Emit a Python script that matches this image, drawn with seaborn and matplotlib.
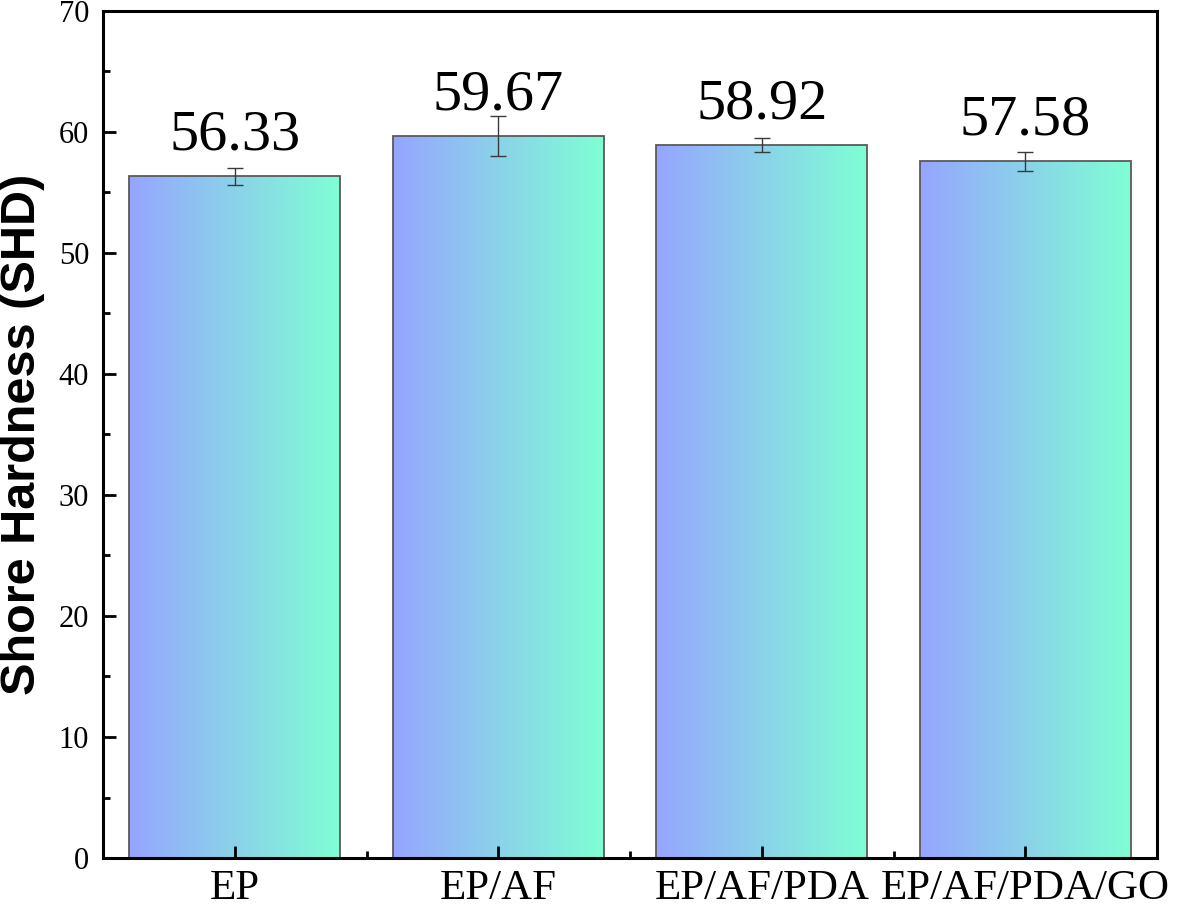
import numpy as np
import pandas as pd
import seaborn as sns
import matplotlib.pyplot as plt
from matplotlib.colors import LinearSegmentedColormap
from matplotlib.ticker import MultipleLocator, FixedLocator

samples = ["EP", "EP/AF", "EP/AF/PDA", "EP/AF/PDA/GO"]
hardness = [56.33, 59.67, 58.92, 57.58]
hardness_err = [0.7, 1.65, 0.6, 0.8]

grad_left = "#96A5FF"
grad_right = "#7FFFD4"


def main():
    sns.set_style("ticks")
    plt.rcParams["font.family"] = ["Liberation Serif", "DejaVu Serif"]
    plt.rcParams["text.color"] = "black"
    plt.rcParams["xtick.color"] = "black"
    plt.rcParams["ytick.color"] = "black"

    df = pd.DataFrame({"sample": samples, "shd": hardness, "err": hardness_err})

    fig = plt.figure(figsize=(12.01, 9.07), dpi=100)
    ax = fig.add_axes([0.0858, 0.054, 0.8776, 0.934])

    sns.barplot(data=df, x="sample", y="shd", order=samples, errorbar=None,
                width=0.8, color=grad_left, edgecolor="#5a5a5a", linewidth=1.3, ax=ax)

    # gradient fill clipped to each bar
    cmap = LinearSegmentedColormap.from_list("bar_grad", [grad_left, grad_right])
    grad = np.linspace(0, 1, 256).reshape(1, -1)
    for patch in ax.patches:
        x0, y0 = patch.get_x(), patch.get_y()
        w, h = patch.get_width(), patch.get_height()
        im = ax.imshow(grad, cmap=cmap, aspect="auto", extent=(x0, x0 + w, y0, y0 + h),
                       zorder=patch.get_zorder() - 0.1, interpolation="bicubic")
        im.set_clip_path(patch)
        patch.set_facecolor("none")
    ax.set_xlim(-0.5, 3.5)
    ax.set_ylim(0, 70)
    ax.set_axisbelow(False)

    ax.errorbar(x=np.arange(len(samples)), y=df["shd"], yerr=df["err"], fmt="none",
                ecolor="#3a3a3a", elinewidth=1.0, capsize=6, capthick=1.0, zorder=5)

    for i, v in enumerate(df["shd"]):
        ax.annotate(f"{v:.2f}", xy=(i, v), xytext=(0, 19), textcoords="offset points",
                    ha="center", va="baseline", fontsize=42, color="black")

    ax.set_xlabel("")
    ax.set_ylabel("Shore Hardness (SHD)", fontsize=35, fontweight="bold",
                  family=["Liberation Sans", "DejaVu Sans"], color="black")
    ax.yaxis.set_label_coords(-0.055, 0.5)

    ax.yaxis.set_major_locator(MultipleLocator(10))
    ax.yaxis.set_minor_locator(MultipleLocator(5))
    ax.xaxis.set_minor_locator(FixedLocator([0.5, 1.5, 2.5]))

    ax.tick_params(axis="both", which="major", direction="in", length=9, width=2,
                   top=False, right=False)
    ax.tick_params(axis="both", which="minor", direction="in", length=5, width=2,
                   top=False, right=False)
    ax.tick_params(axis="y", which="major", labelsize=22, pad=10)
    ax.tick_params(axis="x", which="major", labelsize=31, pad=8)

    for side in ["left", "right", "top", "bottom"]:
        ax.spines[side].set_visible(True)
        ax.spines[side].set_linewidth(2.2)
        ax.spines[side].set_color("black")

    fig.savefig("out.png", dpi=100)
    plt.close(fig)


if __name__ == "__main__":
    main()
